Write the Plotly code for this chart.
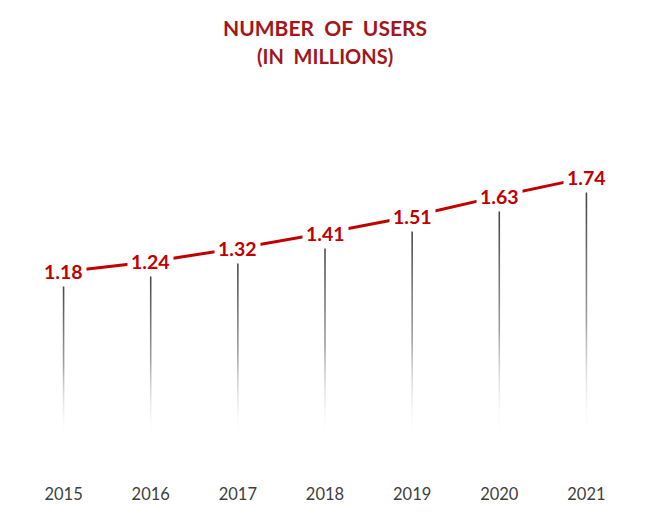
import plotly.graph_objects as go

years = ["2015", "2016", "2017", "2018", "2019", "2020", "2021"]
users = [1.18, 1.24, 1.32, 1.41, 1.51, 1.63, 1.74]
title_line1 = "NUMBER&nbsp; OF&nbsp; USERS"
title_line2 = "(IN&nbsp; MILLIONS)"

RED = "#C00000"
TITLE_RED = "#A0171C"
FONT = "Lato, Open Sans, sans-serif"
xs = list(range(len(years)))

fig = go.Figure()

# gradient drop columns (thin, fading towards the bottom)
hw = 0.009
fade_at = 0.17
for x, v in zip(xs, users):
    fig.add_trace(go.Scatter(
        x=[x - hw, x + hw, x + hw, x - hw, x - hw],
        y=[0, 0, v, v, 0],
        mode="lines", line=dict(width=0),
        fill="toself",
        fillgradient=dict(
            type="vertical", start=fade_at, stop=v,
            colorscale=[[0, "rgba(255,255,255,0)"], [0.45, "#a0a0a0"], [1, "#383838"]],
        ),
        hoverinfo="skip", showlegend=False,
    ))

# red connecting line
fig.add_trace(go.Scatter(
    x=xs, y=users, mode="lines",
    line=dict(color=RED, width=3),
    hoverinfo="skip", showlegend=False,
))

# data labels with white boxes hiding the line
for x, v in zip(xs, users):
    fig.add_annotation(
        x=x, y=v, text=f"<b>{v:.2f}</b>", showarrow=False,
        xanchor="center", yanchor="middle",
        font=dict(family=FONT, size=19.5, color=RED),
        bgcolor="white", borderpad=3,
    )

fig.add_annotation(
    xref="paper", yref="paper", x=0.5, y=1, yshift=73,
    text=f"<b>{title_line1}</b>", showarrow=False,
    xanchor="center", yanchor="middle",
    font=dict(family=FONT, size=21, color=TITLE_RED),
)
fig.add_annotation(
    xref="paper", yref="paper", x=0.5, y=1, yshift=44,
    text=f"<b>{title_line2}</b>", showarrow=False,
    xanchor="center", yanchor="middle",
    font=dict(family=FONT, size=20, color=TITLE_RED),
)

fig.update_layout(
    width=650, height=527,
    margin=dict(l=12, r=28, t=92, b=53),
    paper_bgcolor="white", plot_bgcolor="white",
    xaxis=dict(
        range=[-0.5, 6.5], tickmode="array", tickvals=xs, ticktext=years,
        showgrid=False, zeroline=False, showline=False,
        tickfont=dict(family=FONT, size=16.5, color="#404040"),
    ),
    yaxis=dict(
        range=[-0.071, 2.202], visible=False, showgrid=False, zeroline=False,
    ),
)

fig.write_html("out.html")
